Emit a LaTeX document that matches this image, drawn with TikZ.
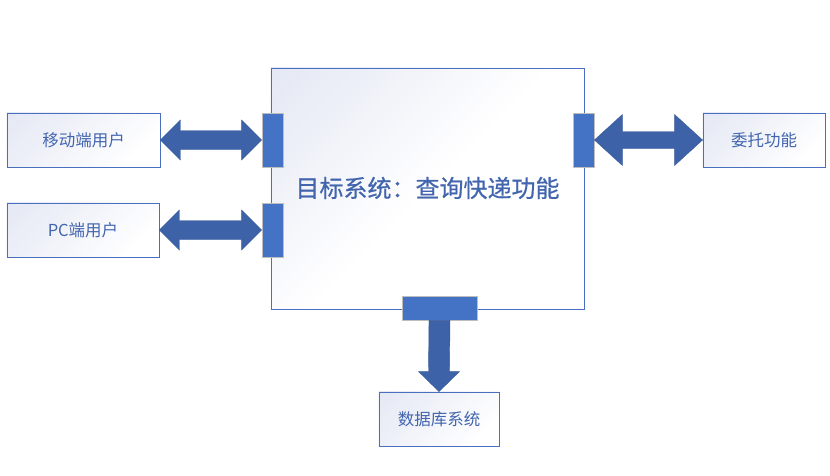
\documentclass[tikz,border=0pt]{standalone}
\usepackage{fontspec}
\newfontfamily\cjk{Noto Sans CJK SC}
\newfontfamily\cjkb[FakeBold=0.6]{Noto Sans CJK SC}
\usetikzlibrary{calc}
\pgfdeclarelayer{background}
\pgfsetlayers{background,main}
\definecolor{boxline}{HTML}{4A6FBE}
\definecolor{boxtop}{HTML}{E4E7F4}
\definecolor{txt}{HTML}{4265AE}
\definecolor{portfill}{HTML}{4472C4}
\definecolor{portline}{HTML}{BDBDBD}
\definecolor{arrfill}{HTML}{3D62A8}
\definecolor{arrline}{HTML}{3A5A9C}
\tikzset{
  gbox/.style={draw=boxline, line width=0.9pt, inner sep=0pt, font=\cjk\fontsize{16.5}{18}\selectfont, text=txt},
  port/.style={draw=portline, line width=0.8pt, fill=portfill, inner sep=0pt},
  bigarrow/.style={fill=arrfill, draw=arrline, line width=0.4pt},
}
% diagonal light fill from the top-left corner of node #1, fading to white over length #2
\newcommand\lavfill[2]{%
  \begin{scope}
    \clip (#1.north west) rectangle (#1.south east);
    \foreach \i in {0,...,29}{%
      \pgfmathsetmacro\sa{#2*\i/30}%
      \pgfmathsetmacro\sb{#2*(\i+1)/30+0.6}%
      \pgfmathtruncatemacro\pc{100*(1-(\i+0.5)/30)}%
      \fill[boxtop!\pc!white] ($(#1.north west)+(\sa+400,-400)$) -- ($(#1.north west)+(\sb+400,-400)$)
        -- ($(#1.north west)+(\sb-400,400)$) -- ($(#1.north west)+(\sa-400,400)$) -- cycle;
    }
  \end{scope}}
% horizontal double arrow: #1 left tip, #2 right tip, #3 head length, #4 head half-height, #5 shaft half-height
\newcommand\hdblarrow[5]{%
  \path[bigarrow] (#1) -- ($(#1)+(#3,-#4)$) -- ($(#1)+(#3,-#5)$) -- ($(#2)+(-#3,-#5)$) -- ($(#2)+(-#3,-#4)$)
    -- (#2) -- ($(#2)+(-#3,#4)$) -- ($(#2)+(-#3,#5)$) -- ($(#1)+(#3,#5)$) -- ($(#1)+(#3,#4)$) -- cycle;}
\begin{document}
\begin{tikzpicture}[x=1pt,y=-1pt]
\useasboundingbox (0,0) rectangle (830,475);
% main box
\node[gbox, minimum width=313pt, minimum height=241pt] (main) at (427.5,188.5) {};
\node[text=txt, font=\cjkb\fontsize{24}{26}\selectfont, inner sep=0pt] (title) at (427.5,188) {目标系统：查询快递功能};
% outer boxes
\node[gbox, minimum width=153pt, minimum height=54pt] (mob) at (83.5,140) {移动端用户};
\node[gbox, minimum width=152pt, minimum height=54pt] (pc) at (83,230) {PC端用户};
\node[gbox, minimum width=122pt, minimum height=54pt] (wt) at (764,140) {委托功能};
\node[gbox, minimum width=120pt, minimum height=54pt] (db) at (439,419) {数据库系统};
\begin{pgfonlayer}{background}
\lavfill{main}{285}
\lavfill{mob}{175}
\lavfill{pc}{175}
\lavfill{wt}{150}
\lavfill{db}{150}
\end{pgfonlayer}
% ports
\node[port, minimum width=21pt, minimum height=54pt] (p1) at (272.5,140) {};
\node[port, minimum width=21pt, minimum height=54pt] (p2) at (272.5,230) {};
\node[port, minimum width=21pt, minimum height=54pt] (p3) at (583.5,140) {};
\node[port, minimum width=75pt, minimum height=24pt] (p4) at (439.5,308) {};
% arrows
\hdblarrow{mob.east}{p1.west}{20}{20}{9.5}
\hdblarrow{pc.east}{p2.west}{20}{20}{9.5}
\hdblarrow{p3.east}{wt.west}{28}{25.5}{8.5}
\coordinate (dtip) at (db.north);
\path[bigarrow] ($(p4.south)+(-10.5,0)$) -- ($(p4.south)+(10.5,0)$) -- ($(dtip)+(10.5,-20)$) -- ($(dtip)+(20.5,-20)$)
  -- (dtip) -- ($(dtip)+(-20.5,-20)$) -- ($(dtip)+(-10.5,-20)$) -- cycle;
\end{tikzpicture}
\end{document}
